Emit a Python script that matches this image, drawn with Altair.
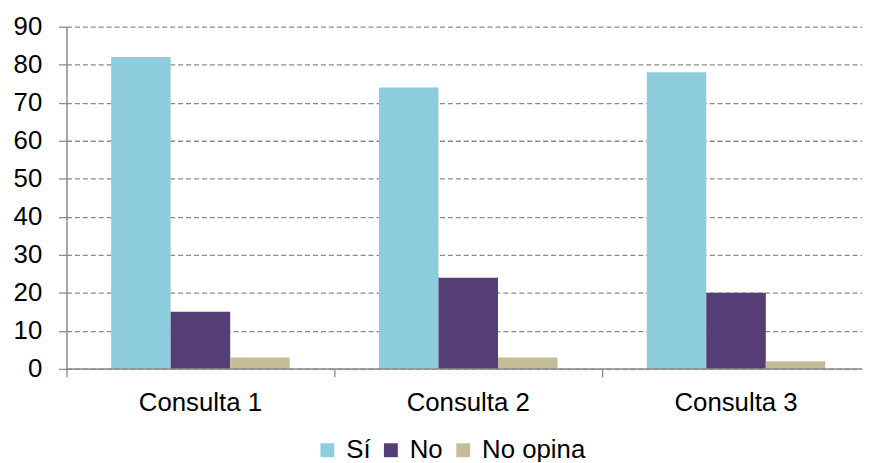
import altair as alt
import pandas as pd

consultas = ["Consulta 1", "Consulta 2", "Consulta 3"]
respuestas = ["Sí", "No", "No opina"]
si_vals = [82, 74, 78]
no_vals = [15, 24, 20]
no_opina_vals = [3, 3, 2]
colores = ["#8ECDDD", "#553D75", "#C4BD97"]
y_ticks = list(range(0, 91, 10))

rows = []
for i, c in enumerate(consultas):
    for r, vals in zip(respuestas, [si_vals, no_vals, no_opina_vals]):
        rows.append({"Consulta": c, "Respuesta": r, "Valor": vals[i]})
df = pd.DataFrame(rows)
base_df = pd.DataFrame({"Valor": [y_ticks[0]]})

FONT = "Liberation Sans"
GRAY = "#8a8a8a"

y_axis = alt.Axis(
    title=None, values=y_ticks, grid=True, gridDash=[5, 3], gridColor=GRAY,
    gridWidth=1.3, domainColor=GRAY, domainWidth=1.5, tickSize=8,
    tickColor=GRAY, tickWidth=1.3, labelPadding=17, labelFontSize=26,
    labelColor="#000000", labelFont=FONT,
)
y_scale = alt.Scale(domain=[0, 90], nice=False)

bars = alt.Chart(df).mark_bar().encode(
    x=alt.X(
        "Consulta:N",
        sort=consultas,
        scale=alt.Scale(paddingInner=0, paddingOuter=0, range=[0, 810]),
        axis=alt.Axis(
            title=None, grid=False, domain=False, bandPosition=0, tickSize=8,
            tickColor=GRAY, tickWidth=1.3, labelPadding=13,
            labelFontSize=26, labelColor="#000000", labelFont=FONT, labelAngle=0,
        ),
    ),
    xOffset=alt.XOffset(
        "Respuesta:N", sort=respuestas,
        scale=alt.Scale(domain=respuestas, paddingOuter=0.75, paddingInner=0),
    ),
    y=alt.Y("Valor:Q", scale=y_scale, axis=y_axis),
    color=alt.Color(
        "Respuesta:N", sort=respuestas,
        scale=alt.Scale(domain=respuestas, range=colores),
        legend=alt.Legend(
            title=None, orient="none", legendX=250, legendY=414,
            direction="horizontal", symbolType="square", symbolSize=196,
            symbolStrokeWidth=0, labelFontSize=26, labelFont=FONT,
            labelColor="#000000", labelOffset=6, columnPadding=7, padding=0,
        ),
    ),
)

baseline = alt.Chart(base_df).mark_rule(color=GRAY, strokeWidth=1.5).encode(
    y=alt.Y("Valor:Q", scale=y_scale, axis=y_axis)
)

chart = alt.layer(bars, baseline).properties(
    width=802, height=345,
    autosize=alt.AutoSizeParams(type="none"),
    padding={"left": 59, "top": 17, "right": 0, "bottom": 92},
).configure_view(stroke=None)

chart.save("out.html", embed_options={"renderer": "svg", "actions": False})
